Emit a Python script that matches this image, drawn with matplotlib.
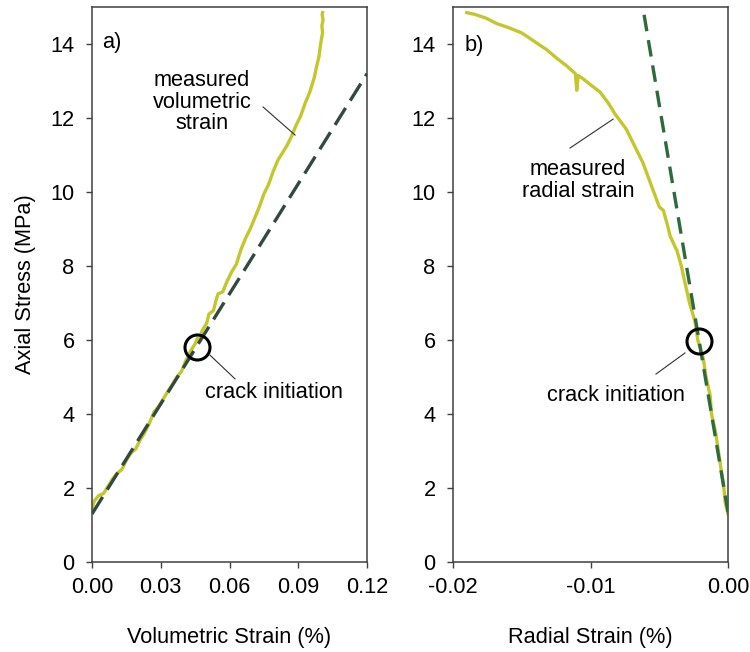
import matplotlib
matplotlib.use('Agg')
import matplotlib.pyplot as plt

plt.rcParams['font.family'] = ['Liberation Sans', 'DejaVu Sans']

# Panel a) measured volumetric strain (%) vs axial stress (MPa)
vol_strain = [0.000, 0.001, 0.003, 0.005, 0.007, 0.009, 0.011, 0.013, 0.015, 0.017,
              0.019, 0.021, 0.023, 0.025, 0.027, 0.029, 0.031, 0.033, 0.035, 0.037,
              0.039, 0.041, 0.043, 0.045, 0.046, 0.047, 0.048, 0.050, 0.051, 0.053,
              0.054, 0.055, 0.057, 0.059, 0.061, 0.063, 0.065, 0.067, 0.069, 0.071,
              0.073, 0.075, 0.077, 0.079, 0.081, 0.083, 0.085, 0.087, 0.089, 0.091,
              0.093, 0.095, 0.097, 0.098, 0.099, 0.0995, 0.1000, 0.1006, 0.1003, 0.1008,
              0.1004, 0.1006]
vol_stress = [1.45, 1.65, 1.80, 1.85, 2.05, 2.25, 2.40, 2.50, 2.75, 2.95,
              3.05, 3.30, 3.50, 3.75, 4.05, 4.20, 4.40, 4.60, 4.80, 5.00,
              5.15, 5.45, 5.70, 5.90, 6.05, 6.00, 6.25, 6.45, 6.70, 6.80,
              7.05, 7.25, 7.30, 7.60, 7.85, 8.05, 8.45, 8.75, 9.00, 9.30,
              9.60, 9.95, 10.20, 10.55, 10.85, 11.05, 11.25, 11.50, 11.80, 12.05,
              12.40, 12.70, 13.10, 13.40, 13.65, 13.90, 14.10, 14.30, 14.50, 14.65,
              14.80, 14.85]
vol_fit_x = [0.0, 0.12]
vol_fit_y = [1.3, 13.2]

# Panel b) measured radial strain (%) vs axial stress (MPa)
rad_strain = [0.0000, -0.0002, -0.0003, -0.0005, -0.0007, -0.0009, -0.0012, -0.0013,
              -0.0016, -0.0018, -0.0022, -0.0024, -0.0028, -0.0031, -0.0034, -0.0037,
              -0.0042, -0.0044, -0.0047, -0.0050, -0.0054, -0.0058, -0.0062, -0.0066,
              -0.0070, -0.0074, -0.0079, -0.0082, -0.0087, -0.0093, -0.0100, -0.0105,
              -0.0109, -0.0110, -0.0111, -0.0117, -0.0124, -0.0132, -0.0140, -0.0150,
              -0.0160, -0.0168, -0.0176, -0.0184, -0.0190]
rad_stress = [1.30, 1.60, 2.00, 2.50, 3.00, 3.50, 4.00, 4.50,
              5.00, 5.50, 6.00, 6.50, 7.00, 7.50, 8.00, 8.40,
              8.80, 9.10, 9.50, 9.60, 10.00, 10.40, 10.80, 11.10,
              11.40, 11.70, 11.95, 12.10, 12.40, 12.70, 12.90, 13.05,
              13.15, 12.75, 13.20, 13.40, 13.60, 13.85, 14.05, 14.30,
              14.45, 14.55, 14.70, 14.80, 14.85]
rad_fit_x = [0.0, -0.0062]
rad_fit_y = [1.35, 15.0]

y_ticks = [0, 2, 4, 6, 8, 10, 12, 14]
vol_ticks = [0.00, 0.03, 0.06, 0.09, 0.12]
rad_ticks = [-0.02, -0.01, 0.00]

curve_col = '#c3c62c'
fs = 15.7

fig = plt.figure(figsize=(7.5, 6.52), dpi=100)
ax1 = fig.add_axes([0.1227, 0.138, 0.3667, 0.8512])
ax2 = fig.add_axes([0.604, 0.138, 0.3667, 0.8512])

for ax in (ax1, ax2):
    for sp in ax.spines.values():
        sp.set_color('#404040')
        sp.set_linewidth(1.1)
    ax.set_ylim(0, 15)
    ax.set_yticks(y_ticks)
    ax.tick_params(direction='out', length=4.5, width=1, colors='#404040',
                   labelcolor='black', labelsize=fs)
    ax.tick_params(axis='x', pad=6)
    ax.tick_params(axis='y', pad=8)

# panel a
ax1.plot(vol_strain, vol_stress, color=curve_col, lw=2.4, zorder=2)
ax1.plot(vol_fit_x, vol_fit_y, color='#33493f', lw=2.4, dashes=(6, 2.6), zorder=3)
ax1.plot([0.0458], [5.81], 'o', ms=18, mfc='none', mec='black', mew=2.2, zorder=4)
ax1.set_xlim(0, 0.12)
ax1.set_xticks(vol_ticks)
ax1.set_xticklabels(['%.2f' % v for v in vol_ticks])
ax1.set_xlabel('Volumetric Strain (%)', fontsize=fs)
ax1.set_ylabel('Axial Stress (MPa)', fontsize=fs)
ax1.xaxis.set_label_coords(0.5, -0.117)
ax1.yaxis.set_label_coords(-0.204, 0.5)
ax1.text(0.0044, 14.03, 'a)', fontsize=fs, va='center', ha='left')
ax1.plot([0.0515, 0.0624], [5.59, 4.95], color='#303030', lw=0.8)
ax1.text(0.0493, 4.59, 'crack initiation', fontsize=fs, va='center', ha='left')
ax1.plot([0.0746, 0.0886], [12.30, 11.54], color='#303030', lw=0.8)
ax1.text(0.048, 12.43, 'measured\nvolumetric\nstrain', fontsize=fs, va='center',
         ha='center', linespacing=1.05)

# panel b
ax2.plot(rad_strain, rad_stress, color=curve_col, lw=2.4, zorder=2)
ax2.plot(rad_fit_x, rad_fit_y, color='#2f6a3d', lw=2.4, dashes=(5, 2.7), zorder=3)
ax2.plot([-0.00211], [5.97], 'o', ms=18, mfc='none', mec='black', mew=2.2, zorder=4)
ax2.set_xlim(-0.02, 0.0)
ax2.set_xticks(rad_ticks)
ax2.set_xticklabels(['%.2f' % v for v in rad_ticks])
ax2.set_xlabel('Radial Strain (%)', fontsize=fs)
ax2.xaxis.set_label_coords(0.5, -0.117)
ax2.text(-0.01913, 13.97, 'b)', fontsize=fs, va='center', ha='left')
ax2.plot([-0.00313, -0.00524], [5.65, 5.08], color='#303030', lw=0.8)
ax2.text(-0.01316, 4.49, 'crack initiation', fontsize=fs, va='center', ha='left')
ax2.plot([-0.01149, -0.00836], [11.19, 11.97], color='#303030', lw=0.8)
ax2.text(-0.0109, 10.31, 'measured\nradial strain', fontsize=fs, va='center',
         ha='center', linespacing=1.05)

plt.savefig('out.png', dpi=100)
plt.close()
